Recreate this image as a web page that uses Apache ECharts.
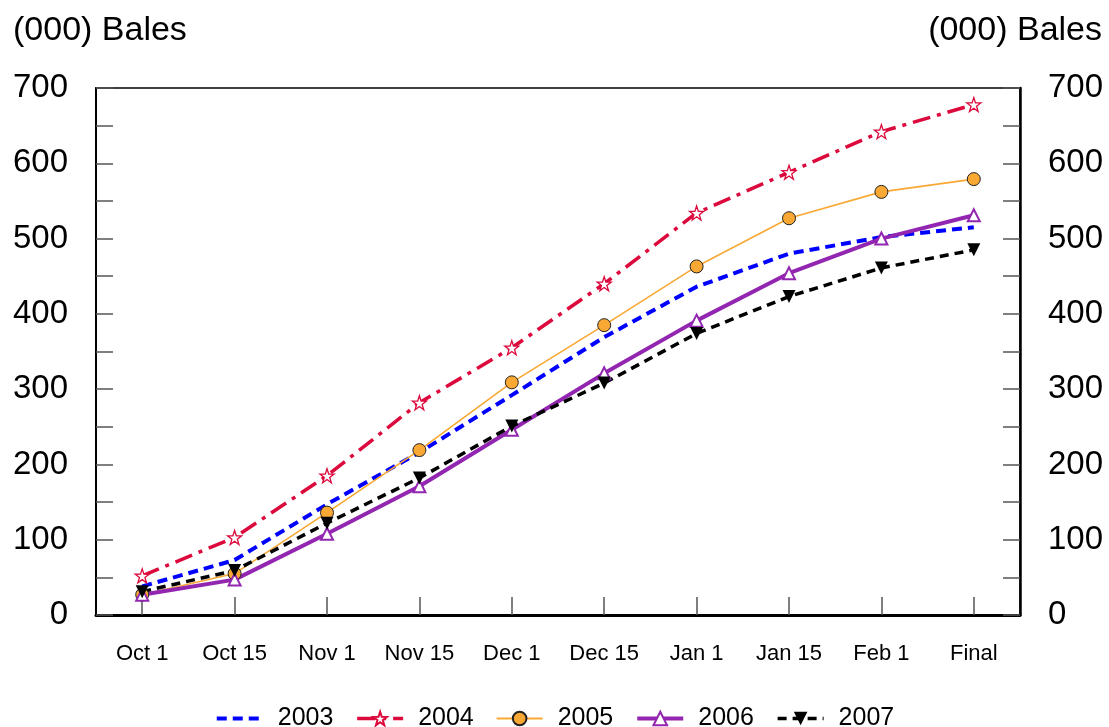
<!DOCTYPE html>
<html>
<head>
<meta charset="utf-8">
<script src="https://cdn.jsdelivr.net/npm/echarts@6/dist/echarts.min.js"></script>
<style>
html,body{margin:0;padding:0;background:#fff;}
#c{width:1109px;height:727px;}
</style>
</head>
<body>
<div id="c"></div>
<script>
var categories = ['Oct 1','Oct 15','Nov 1','Nov 15','Dec 1','Dec 15','Jan 1','Jan 15','Feb 1','Final'];
var s2003 = [38, 73, 147, 216, 292, 369, 436, 480, 502, 515];
var s2004 = [52, 103, 185, 282, 355, 440, 534, 588, 642, 678];
var s2005 = [27, 55, 136, 219, 309, 385, 463, 527, 562, 579];
var s2006 = [27, 47, 108, 171, 246, 321, 391, 454, 500, 531];
var s2007 = [31, 59, 122, 182, 251, 308, 374, 423, 461, 485];
var yTicks = [0, 100, 200, 300, 400, 500, 600, 700];
var unitLabel = '(000) Bales';

var FONT = 'Liberation Sans, Arial, Helvetica, sans-serif';
var star = 'path://M50,0 L61.8,35.5 L98.9,35.9 L69.1,58.1 L80.3,93.5 L50,72 L19.7,93.5 L30.9,58.1 L1.1,35.9 L38.2,35.5 Z';

function yAxisCfg(pos) {
  return {
    type: 'value', position: pos, min: 0, max: 700, interval: 50,
    axisLine: { show: true, lineStyle: { color: '#000', width: pos === 'left' ? 2 : 2.5 } },
    axisTick: { show: true, inside: true, length: 17, lineStyle: { color: '#555', width: 1.5 } },
    axisLabel: {
      margin: 28, fontSize: 33, color: '#000', fontFamily: FONT,
      formatter: function (v) { return yTicks.indexOf(v) >= 0 ? String(v) : ''; }
    },
    splitLine: { show: false }
  };
}

var chart = echarts.init(document.getElementById('c'), null, { renderer: 'canvas' });
chart.setOption({
  animation: false,
  backgroundColor: '#fff',
  textStyle: { fontFamily: FONT },
  title: [
    { text: unitLabel, left: 8, top: 9, textStyle: { fontSize: 34, fontWeight: 'normal', color: '#000', fontFamily: FONT } },
    { text: unitLabel, right: 2, top: 9, textStyle: { fontSize: 34, fontWeight: 'normal', color: '#000', fontFamily: FONT } }
  ],
  grid: { left: 96, right: 89, top: 88, bottom: 112, show: true, borderColor: '#000', borderWidth: 1.5, backgroundColor: 'transparent' },
  legend: {
    top: 701, left: 'center', itemWidth: 46, itemHeight: 17, itemGap: 22,
    textStyle: { fontSize: 25, color: '#000', fontFamily: FONT, padding: [0, 0, 0, 10] },
    lineStyle: { width: 'inherit' },
    data: [
      { name: '2003', lineStyle: { width: 4 } },
      { name: '2004', lineStyle: { width: 3.5 } },
      { name: '2005', lineStyle: { width: 1.8 } },
      { name: '2006', lineStyle: { width: 4 } },
      { name: '2007', lineStyle: { width: 3.5 } }
    ]
  },
  xAxis: {
    type: 'category', data: categories, boundaryGap: true,
    axisLine: { show: true, lineStyle: { color: '#000', width: 3 } },
    axisTick: { show: true, inside: true, alignWithLabel: true, length: 18, lineStyle: { color: '#555', width: 1.5 } },
    axisLabel: { margin: 28, fontSize: 22, color: '#000', fontFamily: FONT, interval: 0 }
  },
  yAxis: [yAxisCfg('left'), yAxisCfg('right')],
  series: [
    {
      name: '2003', type: 'line', data: s2003, symbol: 'none', showSymbol: false,
      itemStyle: { color: 'rgba(0,0,0,0)', borderColor: 'rgba(0,0,0,0)' },
      lineStyle: { color: '#0000ff', width: 4, type: [10, 6] }
    },
    {
      name: '2004', type: 'line', data: s2004, symbol: star, symbolSize: 14,
      itemStyle: { color: '#fff', borderColor: '#dc0a3c', borderWidth: 1.3 },
      lineStyle: { color: '#dc0a3c', width: 3.5, type: [18, 7, 4, 7] }
    },
    {
      name: '2005', type: 'line', data: s2005, symbol: 'circle', symbolSize: 13,
      itemStyle: { color: '#f9a834', borderColor: '#222', borderWidth: 1 },
      lineStyle: { color: '#f9a834', width: 1.6 }
    },
    {
      name: '2006', type: 'line', data: s2006, symbol: 'emptyTriangle', symbolSize: 12,
      itemStyle: { color: '#9326b0', borderColor: '#9326b0', borderWidth: 1.3 },
      lineStyle: { color: '#9326b0', width: 4 }
    },
    {
      name: '2007', type: 'line', data: s2007, symbol: 'triangle', symbolRotate: 180, symbolSize: 13,
      itemStyle: { color: '#000' },
      lineStyle: { color: '#000', width: 3.5, type: [9, 6] }
    }
  ]
});
</script>
</body>
</html>
